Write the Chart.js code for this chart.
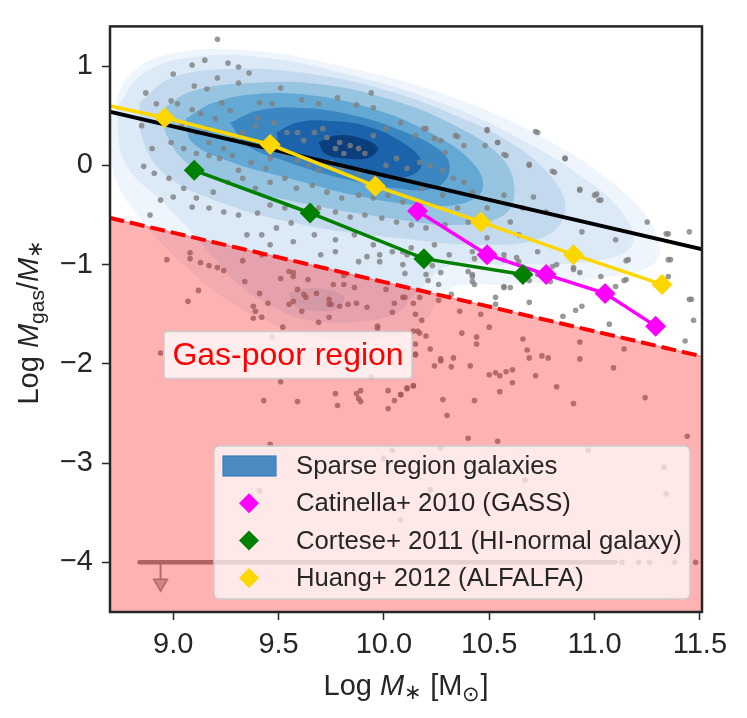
<!DOCTYPE html>
<html>
<head>
<meta charset="utf-8">
<script src="https://cdn.jsdelivr.net/npm/chart.js@4.4.1/dist/chart.umd.min.js"></script>
<style>
html, body { margin: 0; padding: 0; background: #fff; }
#wrap { width: 747px; height: 718px; }
</style>
</head>
<body>
<div id="wrap"><canvas id="myChart" width="747" height="718"></canvas></div>
<script>
// tick labels
var xTicks = [9.0, 9.5, 10.0, 10.5, 11.0, 11.5];
var yTicks = [-4, -3, -2, -1, 0, 1];

// Catinella+ 2010 (GASS)
var catX = [10.16, 10.49, 10.77, 11.05, 11.29];
var catY = [-0.46, -0.90, -1.10, -1.29, -1.62];
// Cortese+ 2011 (HI-normal galaxy)
var corX = [9.10, 9.65, 10.19, 10.66];
var corY = [-0.05, -0.48, -0.94, -1.10];
// Huang+ 2012 (ALFALFA)
var huaX = [8.46, 8.96, 9.46, 9.96, 10.46, 10.90, 11.32];
var huaY = [0.71, 0.48, 0.21, -0.21, -0.57, -0.90, -1.20];

// 평균 관계선 (black) / gas-poor 경계 (red dashed)
var fitX = [8.6, 11.6];
var fitY = [0.59, -0.89];
var cutX = [8.6, 11.6];
var cutY = [-0.48, -1.97];

// upper limits at -4
var limX = [8.84, 11.10];
var limY = [-4, -4];
var limDotX = [11.13, 11.21, 11.26, 11.38, 11.48];
var arrowX = [8.94];
var arrowTop = -4.0;
var arrowShaftEnd = -4.17;
var arrowHead = -4.21;

// KDE contours of sparse region galaxies (outer -> inner)
var kde1 = [[8.70,0.43],[8.79,0.90],[9.00,1.13],[9.40,1.15],[9.86,0.97],[10.31,0.70],[10.71,0.33],[11.08,-0.17],[11.28,-0.63],[11.29,-0.97],[11.04,-1.13],[10.59,-1.20],[10.30,-1.25],[10.20,-1.55],[10.05,-1.72],[9.75,-1.75],[9.50,-1.62],[9.25,-1.35],[9.05,-1.00],[8.85,-0.55],[8.72,-0.10],[8.70,0.43]];
var kde2 = [[8.73,0.57],[8.86,0.93],[9.13,1.10],[9.49,1.07],[9.86,0.90],[10.22,0.67],[10.59,0.33],[10.95,-0.13],[11.15,-0.53],[11.17,-0.83],[10.97,-0.97],[10.59,-1.00],[10.30,-1.02],[10.15,-1.30],[10.05,-1.50],[9.85,-1.58],[9.62,-1.55],[9.45,-1.40],[9.30,-1.18],[9.18,-0.90],[9.10,-0.70],[8.95,-0.37],[8.77,0.03],[8.73,0.57]];
var kde3 = [[8.84,0.63],[8.99,0.88],[9.28,0.97],[9.62,0.93],[9.99,0.77],[10.31,0.53],[10.60,0.23],[10.80,-0.13],[10.86,-0.47],[10.75,-0.73],[10.46,-0.80],[10.06,-0.73],[9.62,-0.60],[9.22,-0.37],[8.95,-0.07],[8.85,0.30],[8.84,0.63]];
var kde4 = [[8.95,0.57],[9.09,0.75],[9.37,0.83],[9.69,0.82],[10.02,0.67],[10.31,0.43],[10.55,0.10],[10.62,-0.23],[10.57,-0.50],[10.35,-0.60],[10.02,-0.53],[9.66,-0.40],[9.33,-0.23],[9.08,0.00],[8.97,0.30],[8.95,0.57]];
var kde5 = [[9.06,0.47],[9.19,0.63],[9.40,0.72],[9.68,0.70],[9.95,0.57],[10.22,0.33],[10.42,0.03],[10.47,-0.23],[10.38,-0.38],[10.17,-0.40],[9.86,-0.30],[9.55,-0.13],[9.28,0.03],[9.09,0.23],[9.06,0.47]];
var kde6 = [[9.27,0.43],[9.40,0.55],[9.585,0.58],[9.80,0.53],[10.06,0.37],[10.28,0.13],[10.31,-0.07],[10.24,-0.23],[10.06,-0.23],[9.80,-0.13],[9.55,0.03],[9.35,0.20],[9.27,0.43]];
var kde7 = [[9.49,0.33],[9.585,0.43],[9.73,0.45],[9.91,0.40],[10.09,0.23],[10.18,0.03],[10.13,-0.10],[9.99,-0.12],[9.80,0.00],[9.62,0.10],[9.51,0.20],[9.49,0.33]];
var kde8 = [[9.69,0.23],[9.77,0.30],[9.88,0.28],[9.97,0.18],[9.93,0.08],[9.82,0.07],[9.72,0.12],[9.69,0.23]];
var kdeLow = [[9.55,-1.28],[9.62,-1.24],[9.74,-1.25],[9.81,-1.32],[9.79,-1.43],[9.68,-1.47],[9.57,-1.41],[9.55,-1.28]];

// individual galaxies (grey dots)
var galaxies = [
[9.21,1.27],[9.15,1.06],[9.09,1.01],[9.26,1.03],[9.31,0.99],[9.36,0.93],[9.00,0.92],[9.21,0.88],[9.31,0.83],[9.51,0.78],
[9.10,0.80],[9.16,0.77],[8.87,0.73],[8.92,0.62],[8.99,0.65],[9.02,0.62],[9.61,0.66],[9.78,0.68],[9.94,0.73],[9.87,0.61],
[9.95,0.58],[9.69,0.62],[9.41,0.63],[9.47,0.62],[9.23,0.63],[9.27,0.55],[9.09,0.56],[9.13,0.52],[9.20,0.47],[8.99,0.47],
[8.85,0.40],[9.04,0.40],[9.11,0.33],[9.16,0.37],[9.17,0.23],[9.24,0.17],[9.29,0.27],[9.33,0.33],[9.39,0.40],[9.40,0.48],
[9.48,0.43],[9.54,0.33],[9.59,0.33],[9.62,0.25],[9.67,0.33],[9.71,0.37],[9.73,0.28],[9.79,0.23],[9.84,0.20],[9.88,0.17],
[9.77,0.17],[9.81,0.12],[9.91,0.12],[9.95,0.30],[10.01,0.37],[10.08,0.43],[10.15,0.30],[10.19,0.37],[10.24,0.27],[10.29,0.13],
[10.34,0.30],[10.38,0.20],[10.49,0.35],[10.54,0.23],[10.58,0.10],[10.73,0.33],[10.69,0.00],[10.81,-0.07],[10.86,0.07],[10.93,-0.25],
[11.00,-0.30],[11.02,-0.35],[11.25,-0.57],[11.35,-0.69],[11.45,-0.67],[11.36,-0.95],[11.46,-1.35],[10.94,-0.67],[11.10,-0.75],[11.16,-0.95],
[11.15,-1.15],[10.90,-1.03],[10.82,-1.00],[10.73,-0.87],[10.64,-0.70],[10.60,-0.57],[10.66,-0.43],[10.71,-0.32],[10.77,-0.47],[10.57,-0.30],
[10.49,-0.43],[10.42,-0.27],[10.38,-0.17],[10.33,-0.13],[10.28,-0.05],[10.22,0.00],[10.17,0.03],[10.11,-0.03],[10.06,0.07],[10.01,0.00],
[9.95,-0.10],[9.88,-0.07],[9.80,-0.03],[9.75,0.03],[9.69,-0.05],[9.64,0.00],[9.59,0.05],[9.53,0.12],[9.46,0.07],[9.44,-0.03],
[9.37,0.03],[9.31,-0.05],[9.28,0.10],[9.22,0.07],[9.17,0.10],[9.11,0.12],[9.05,0.17],[8.99,0.23],[8.90,0.17],[8.86,-0.01],
[8.91,-0.08],[8.98,-0.13],[9.05,-0.23],[9.00,-0.32],[9.11,-0.33],[9.19,-0.27],[9.26,-0.17],[9.33,-0.13],[9.39,-0.23],[9.46,-0.17],
[9.53,-0.13],[9.585,-0.23],[9.66,-0.20],[9.73,-0.27],[9.80,-0.33],[9.88,-0.30],[9.95,-0.33],[10.02,-0.30],[10.09,-0.37],[10.18,-0.23],
[10.28,-0.30],[10.35,-0.43],[10.40,-0.57],[10.29,-0.60],[10.20,-0.63],[10.13,-0.60],[10.06,-0.57],[9.99,-0.53],[9.91,-0.50],[9.84,-0.52],
[9.77,-0.47],[9.69,-0.43],[9.62,-0.47],[9.53,-0.43],[9.46,-0.40],[9.40,-0.48],[9.31,-0.50],[9.24,-0.47],[9.17,-0.43],[9.09,-0.42],
[8.89,-0.50],[8.94,-0.35],[9.56,-0.58],[9.49,-0.63],[9.42,-0.70],[9.35,-0.70],[9.46,-0.80],[9.57,-0.77],[9.67,-0.70],[9.77,-0.75],
[9.86,-0.70],[9.95,-0.80],[10.04,-0.87],[10.13,-0.83],[10.24,-0.80],[10.31,-0.90],[10.42,-0.87],[10.49,-0.73],[10.57,-0.90],[10.64,-0.97],
[10.73,-1.10],[10.42,-1.10],[10.43,-1.20],[10.57,-1.23],[10.26,-1.20],[10.20,-1.10],[10.09,-1.00],[9.98,-0.97],[9.88,-0.97],[9.77,-0.87],
[9.42,-0.90],[8.97,-0.95],[9.07,-1.37],
[10.49,0.36],[10.72,0.34],[10.86,0.07],[11.34,-0.69],[11.01,-0.29],[11.03,-0.35],[10.93,-0.24],[10.80,-0.06],[10.69,0.01],[10.54,0.23],
[10.57,0.11],[10.48,0.20],[10.35,0.29],[10.20,0.37],[10.27,0.25],
[9.08,-0.88],[9.08,-0.94],[9.13,-0.98],[9.17,-1.01],[9.21,-1.03],[9.24,-1.06],[9.12,-1.26],[8.94,-1.89],[9.33,-0.96],[9.34,-1.17],
[9.41,-1.29],[9.45,-1.39],[9.38,-1.42],[9.39,-1.47],[9.38,-1.54],[9.42,-1.53],[9.52,-1.63],[9.47,-1.73],[9.51,-1.14],[9.55,-1.07],
[9.57,-1.08],[9.57,-1.12],[9.59,-1.25],[9.62,-1.30],[9.63,-1.33],[9.57,-1.37],[9.55,-1.40],[9.61,-1.47],[9.68,-1.29],[9.74,-1.35],
[9.74,-1.40],[9.75,-1.40],[9.79,-1.42],[9.74,-1.53],[9.69,-1.58],[9.83,-1.40],[9.87,-1.39],[9.92,-1.43],[9.97,-1.62],[9.97,-1.64],
[10.05,-1.39],[10.04,-1.48],[10.09,-1.33],[10.14,-1.39],[10.15,-1.50],[10.15,-1.80],[10.15,-1.91],[9.76,-1.20],[9.81,-1.20],[9.86,-1.23],
[10.01,-1.25],[9.81,-1.11],[9.51,-2.18],[9.77,-2.30],[9.78,-2.42],[9.87,-2.30],[9.88,-2.35],[9.89,-2.27],[9.89,-2.38],[9.43,-2.37],
[9.59,-2.38],[10.02,-2.27],[10.02,-2.45],[10.05,-2.37],[10.08,-2.31],[10.11,-2.24],[10.14,-2.22],[9.94,-2.13],[9.70,-0.90],[9.64,-1.15],
[9.98,-0.90],[9.92,-0.92],[10.11,-0.90],
[10.10,-1.09],[10.10,-1.33],[10.17,-1.33],[10.18,-1.56],[10.14,-1.67],[10.16,-1.67],[10.17,-1.69],[10.20,-1.72],[10.22,-1.85],[10.15,-1.90],
[10.11,-2.25],[10.14,-2.22],[10.08,-2.31],[10.24,-2.02],[10.32,-2.03],[10.27,-1.95],[10.27,-1.97],[10.33,-1.94],[10.37,-1.69],[10.41,-2.02],
[10.44,-1.73],[10.44,-1.80],[10.50,-1.63],[10.50,-2.11],[10.53,-2.09],[10.55,-2.12],[10.58,-2.08],[10.61,-2.06],[10.61,-2.19],[10.55,-2.28],
[10.28,-2.36],[10.30,-2.52],[10.43,-2.37],[10.66,-1.75],[10.68,-1.86],[10.69,-1.94],[10.72,-2.12],[10.75,-1.92],[10.78,-1.94],[10.82,-2.23],
[10.90,-2.40],[10.93,-1.78],[10.93,-1.95],[11.09,-2.04],[11.14,-1.85],[11.24,-2.34],[11.43,-1.77],[11.44,-2.73],[11.07,-1.60],[10.85,-1.52],
[10.91,-1.46],[10.94,-1.42],[10.69,-1.38],[11.10,-1.22],[11.14,-1.16],[11.15,-0.96],[11.35,-0.95],[11.35,-1.12],[11.45,-1.35],[11.47,-1.56],
[10.53,-1.33],[10.53,-1.40],[10.26,-1.36],[10.32,-1.30],[10.36,-1.47],[10.46,-1.50],[10.57,-1.22],[10.60,-1.23],[10.69,-1.16],[10.80,-1.02],
[10.79,-1.17],[10.93,-1.08],[10.90,-1.05],[11.03,-1.12],[10.42,-1.12],[10.42,-1.17],[10.40,-1.07],[10.43,-0.94],[10.48,-0.94],[10.23,-1.01],
[10.27,-1.08],[10.21,-1.16],[10.09,-0.87],[10.63,-0.93],[10.57,-0.95],
[9.46,-2.81],[9.41,-3.28],[10.00,-2.95],[10.04,-2.87],[10.08,-3.57],[10.40,-2.75],[10.54,-2.78],[10.97,-2.87],[10.27,-2.85],[11.33,-3.04],
[11.34,-3.31],[10.67,-3.17],[10.22,-3.27]
];

var kdeLevels = [kde1, kde2, kde3, kde4, kde5, kde6, kde7, kde8];
var kdeColors = ['#eef5fc', '#dce9f6', '#c3daee', '#97c5e1', '#64a8d4', '#3b87c2', '#1b64ab', '#0b3e7d'];

var FONT = '"Liberation Sans", Arial, sans-serif';
var TEXT = '#262626';

function pts(xs, ys) {
	return xs.map(function(x, i){ return {x: x, y: ys[i]}; });
}
function pairs(a) {
	return a.map(function(p){ return {x: p[0], y: p[1]}; });
}

var datasets = [];

datasets.push({
	label: 'Huang+ 2012 (ALFALFA)', legendKind: 'diamond', order: 1,
	data: pts(huaX, huaY), showLine: true,
	borderColor: '#FFD700', borderWidth: 3.5, backgroundColor: '#FFD700',
	pointStyle: 'rectRot', pointRadius: 10.5, pointBorderWidth: 0
});
datasets.push({
	label: 'Cortese+ 2011 (HI-normal galaxy)', legendKind: 'diamond', order: 2,
	data: pts(corX, corY), showLine: true,
	borderColor: '#008000', borderWidth: 3.5, backgroundColor: '#008000',
	pointStyle: 'rectRot', pointRadius: 10.5, pointBorderWidth: 0
});
datasets.push({
	label: 'Catinella+ 2010 (GASS)', legendKind: 'diamond', order: 3,
	data: pts(catX, catY), showLine: true,
	borderColor: '#FF00FF', borderWidth: 3.5, backgroundColor: '#FF00FF',
	pointStyle: 'rectRot', pointRadius: 10.5, pointBorderWidth: 0
});
datasets.push({
	order: 4, data: pts(fitX, fitY), showLine: true,
	borderColor: '#000000', borderWidth: 4, pointRadius: 0
});
datasets.push({
	order: 5, data: pts(cutX, cutY), showLine: true,
	borderColor: '#FF0000', borderWidth: 4, borderDash: [15, 6], pointRadius: 0
});
// gas-poor region
datasets.push({
	order: 6, data: pts(cutX, cutY), showLine: true,
	borderColor: 'rgba(255,0,0,0.3)', borderWidth: 1.5, pointRadius: 0,
	fill: 'start', backgroundColor: 'rgba(255,0,0,0.3)'
});
// upper limit arrow
datasets.push({
	order: 7, data: pts([arrowX[0], arrowX[0]], [arrowTop, arrowShaftEnd]), showLine: true,
	borderColor: 'rgba(140,140,140,0.9)', borderWidth: 2, pointRadius: 0
});
datasets.push({
	order: 8, data: pts(arrowX, [arrowHead]),
	pointStyle: 'triangle', rotation: 180, pointRadius: 8,
	backgroundColor: 'rgba(170,170,170,0.8)', borderColor: 'rgba(140,140,140,0.9)', pointBorderWidth: 1.5
});
datasets.push({
	order: 9, data: pts(limX, limY), showLine: true,
	borderColor: 'rgba(128,128,128,0.9)', borderWidth: 4.5, borderCapStyle: 'round', pointRadius: 0
});
datasets.push({
	order: 10, data: pts(limDotX, limDotX.map(function(){ return -4; })),
	pointRadius: 2.8, backgroundColor: 'rgba(128,128,128,0.8)', pointBorderWidth: 0
});
datasets.push({
	order: 11, data: pairs(galaxies),
	pointRadius: 2.8, backgroundColor: 'rgba(128,128,128,0.8)', pointBorderWidth: 0
});
datasets.push({
	order: 12, data: pairs(kdeLow), showLine: true, tension: 0.4,
	borderWidth: 0, borderColor: 'rgba(0,0,0,0)', pointRadius: 0,
	fill: 'shape', backgroundColor: kdeColors[2]
});
for (var k = 0; k < kdeLevels.length; k++) {
	datasets.push({
		label: k === 5 ? 'Sparse region galaxies' : undefined,
		legendKind: k === 5 ? 'patch' : undefined,
		order: 20 - k, data: pairs(kdeLevels[k]), showLine: true, tension: 0.4,
		borderWidth: 0, borderColor: 'rgba(0,0,0,0)', pointRadius: 0,
		fill: 'shape', backgroundColor: kdeColors[k]
	});
}

// 범례 순서
var legendOrder = ['Sparse region galaxies', 'Catinella+ 2010 (GASS)', 'Cortese+ 2011 (HI-normal galaxy)', 'Huang+ 2012 (ALFALFA)'];

function drawRich(ctx, parts, x, y) {
	var total = 0;
	parts.forEach(function(p){ ctx.font = p[1]; total += ctx.measureText(p[0]).width; });
	var cx = x - total / 2;
	parts.forEach(function(p){
		ctx.font = p[1];
		ctx.fillText(p[0], cx, y + (p[2] || 0));
		cx += ctx.measureText(p[0]).width;
	});
}

function roundRect(ctx, x, y, w, h, r) {
	ctx.beginPath();
	ctx.moveTo(x + r, y);
	ctx.arcTo(x + w, y, x + w, y + h, r);
	ctx.arcTo(x + w, y + h, x, y + h, r);
	ctx.arcTo(x, y + h, x, y, r);
	ctx.arcTo(x, y, x + w, y, r);
	ctx.closePath();
}

var decor = {
	id: 'decor',
	afterDraw: function(chart) {
		var ctx = chart.ctx;
		var a = chart.chartArea;
		var sx = chart.scales.x, sy = chart.scales.y;
		ctx.save();

		// Gas-poor region label
		var gx = sx.getPixelForValue(9.545), gy = sy.getPixelForValue(-1.91);
		roundRect(ctx, gx - 124, gy - 23.5, 248, 47, 3);
		ctx.fillStyle = 'rgba(255,255,255,0.75)';
		ctx.fill();
		ctx.strokeStyle = '#cccccc';
		ctx.lineWidth = 1.5;
		ctx.stroke();
		ctx.fillStyle = '#FF0000';
		ctx.font = '32px ' + FONT;
		ctx.textAlign = 'center';
		ctx.textBaseline = 'middle';
		ctx.fillText('Gas-poor region', gx, gy + 1);

		// legend
		var lw = 476, lh = 153;
		var lx = a.right - 12 - lw, ly = a.bottom - 13 - lh;
		roundRect(ctx, lx, ly, lw, lh, 5);
		ctx.fillStyle = 'rgba(255,255,255,0.7)';
		ctx.fill();
		ctx.strokeStyle = '#cccccc';
		ctx.lineWidth = 1.5;
		ctx.stroke();
		ctx.textAlign = 'left';
		ctx.textBaseline = 'middle';
		legendOrder.forEach(function(name, i) {
			var ds = chart.data.datasets.filter(function(d){ return d.label === name; })[0];
			var ry = ly + 20 + i * 37.3;
			var mx = lx + 35;
			if (ds.legendKind === 'patch') {
				ctx.fillStyle = '#4a8bc2';
				ctx.fillRect(mx - 26, ry - 10, 53, 20);
				ctx.strokeStyle = '#3d7fbf';
				ctx.lineWidth = 1.2;
				ctx.strokeRect(mx - 26, ry - 10, 53, 20);
			} else {
				ctx.fillStyle = ds.backgroundColor;
				ctx.beginPath();
				ctx.moveTo(mx, ry - 10);
				ctx.lineTo(mx + 10, ry);
				ctx.lineTo(mx, ry + 10);
				ctx.lineTo(mx - 10, ry);
				ctx.closePath();
				ctx.fill();
			}
			ctx.fillStyle = TEXT;
			ctx.font = '25.7px ' + FONT;
			ctx.fillText(name, lx + 82, ry + 1);
		});

		// frame
		ctx.strokeStyle = TEXT;
		ctx.lineWidth = 2.5;
		ctx.strokeRect(a.left, a.top, a.right - a.left, a.bottom - a.top);

		// axis titles
		ctx.fillStyle = TEXT;
		ctx.textAlign = 'left';
		ctx.textBaseline = 'alphabetic';
		var nf = '29px ' + FONT, itf = 'italic 29px ' + FONT, sf = '21px ' + FONT;
		drawRich(ctx, [['Log ', nf], ['M', itf], ['\u2217', sf, 4], [' [M', nf], ['\u2299', sf, 6], [']', nf]],
			(a.left + a.right) / 2, 695);
		ctx.translate(38, (a.top + a.bottom) / 2 + 3);
		ctx.rotate(-Math.PI / 2);
		drawRich(ctx, [['Log ', nf], ['M', itf], ['gas', sf, 6], ['/', nf], ['M', itf], ['\u2217', sf, 4]], 0, 0);
		ctx.restore();
	}
};

var ctx = document.getElementById('myChart').getContext('2d');
var chart = new Chart(ctx, {
	type: 'scatter',
	data: { datasets: datasets },
	options: {
		responsive: false,
		animation: false,
		devicePixelRatio: 1,
		layout: { padding: { left: 0, top: 23, right: 45, bottom: 0 } },
		plugins: { legend: { display: false }, tooltip: { enabled: false } },
		scales: {
			x: {
				type: 'linear', min: 8.7, max: 11.51,
				afterBuildTicks: function(s){ s.ticks = xTicks.map(function(v){ return {value: v}; }); },
				afterFit: function(s){ s.height = 106; },
				border: { display: false },
				grid: { drawOnChartArea: false, drawTicks: true, tickLength: 8, tickWidth: 1.5, color: TEXT, tickColor: TEXT },
				ticks: {
					font: { family: FONT, size: 29 }, color: TEXT, padding: 8,
					maxRotation: 0, autoSkip: false,
					callback: function(v){ return Number(v).toFixed(1); }
				}
			},
			y: {
				type: 'linear', min: -4.5, max: 1.4,
				afterBuildTicks: function(s){ s.ticks = yTicks.map(function(v){ return {value: v}; }); },
				afterFit: function(s){ s.width = 110; },
				border: { display: false },
				grid: { drawOnChartArea: false, drawTicks: true, tickLength: 8, tickWidth: 1.5, color: TEXT, tickColor: TEXT },
				ticks: {
					font: { family: FONT, size: 29 }, color: TEXT, padding: 9,
					autoSkip: false,
					callback: function(v){ return v < 0 ? '\u2212' + Math.abs(v) : String(v); }
				}
			}
		}
	},
	plugins: [decor]
});
</script>
</body>
</html>
